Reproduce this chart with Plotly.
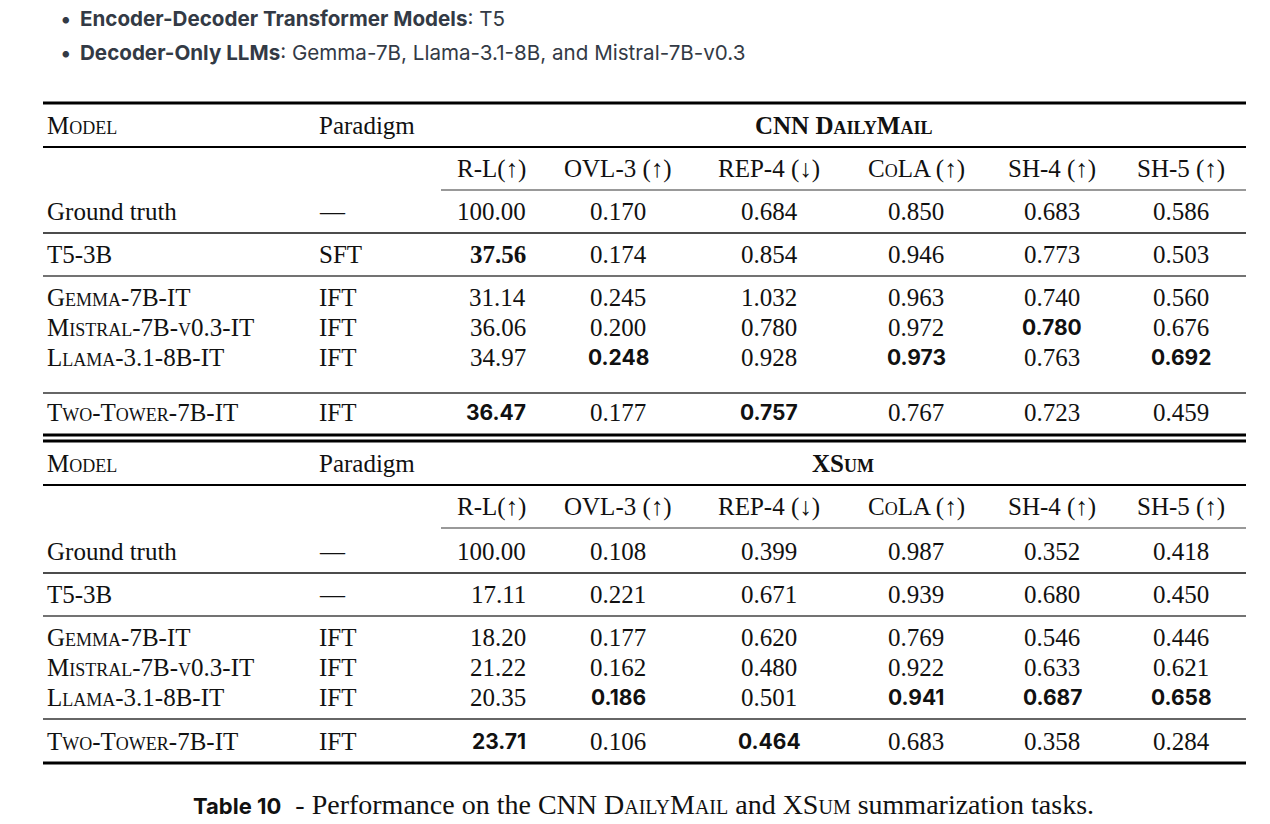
import plotly.graph_objects as go

# table content
metrics = ["R-L(↑)", "OVL-3 (↑)", "REP-4 (↓)", "CoLA (↑)", "SH-4 (↑)", "SH-5 (↑)"]
models = ["Ground truth", "T5-3B", "Gemma-7B-IT", "Mistral-7B-v0.3-IT",
          "Llama-3.1-8B-IT", "Two-Tower-7B-IT"]
cnn_paradigm = ["—", "SFT", "IFT", "IFT", "IFT", "IFT"]
xsum_paradigm = ["—", "—", "IFT", "IFT", "IFT", "IFT"]

cnn_values = [
    ["100.00", "0.170", "0.684", "0.850", "0.683", "0.586"],
    ["37.56", "0.174", "0.854", "0.946", "0.773", "0.503"],
    ["31.14", "0.245", "1.032", "0.963", "0.740", "0.560"],
    ["36.06", "0.200", "0.780", "0.972", "0.780", "0.676"],
    ["34.97", "0.248", "0.928", "0.973", "0.763", "0.692"],
    ["36.47", "0.177", "0.757", "0.767", "0.723", "0.459"],
]
xsum_values = [
    ["100.00", "0.108", "0.399", "0.987", "0.352", "0.418"],
    ["17.11", "0.221", "0.671", "0.939", "0.680", "0.450"],
    ["18.20", "0.177", "0.620", "0.769", "0.546", "0.446"],
    ["21.22", "0.162", "0.480", "0.922", "0.633", "0.621"],
    ["20.35", "0.186", "0.501", "0.941", "0.687", "0.658"],
    ["23.71", "0.106", "0.464", "0.683", "0.358", "0.284"],
]
# (row, col) of best values; serif bold for the T5 cell, sans for the rest
cnn_bold = [(1, 0), (4, 1), (3, 4), (4, 3), (4, 5), (5, 0), (5, 2)]
xsum_bold = [(4, 1), (4, 3), (4, 4), (4, 5), (5, 0), (5, 2)]
serif_bold = [("cnn", 1, 0)]

SERIF = "Liberation Serif"
SANS = "Inter"
INK = "#111111"
W, H = 1270, 824

fig = go.Figure()
fig.add_trace(go.Scatter(x=[0, W], y=[0, H], mode="markers",
                         marker=dict(opacity=0), hoverinfo="skip", showlegend=False))

col_x = [528, 618, 769, 916, 1052, 1181]
x_model, x_par = 45, 317
L, R = 43, 1246

ann = []
shapes = []


def text(x, y, s, size=25, family=SERIF, anchor="left", weight="normal",
         variant="normal", color=INK):
    ann.append(dict(x=x, y=y, xref="x", yref="y", text=s, showarrow=False,
                    xanchor=anchor, yanchor="middle",
                    font=dict(family=family, size=size, color=color,
                              weight=weight, variant=variant)))


def rule(y, w, x0=L, x1=R, color="#000000"):
    shapes.append(dict(type="line", xref="x", yref="y", x0=x0, x1=x1, y0=y, y1=y,
                       line=dict(color=color, width=w)))


def block(name, tag, top, ys, rules, values, paradigm, bold):
    rule(top, 3)
    text(x_model, top + 22, "Model", variant="small-caps")
    text(x_par, top + 22, "Paradigm")
    text(843, top + 22, name, weight="bold", variant="small-caps", anchor="center")
    rule(top + 44, 2)
    for j, m in enumerate(metrics):
        text(col_x[j], top + 66, m, anchor="right" if j == 0 else "center",
             variant="small-caps" if m.startswith("CoLA") else "normal")
    rule(top + 87, 1.5, x0=441, color="#777777")
    for i, row in enumerate(values):
        y = ys[i]
        text(x_model, y, models[i], variant="small-caps" if i >= 2 else "normal")
        text(x_par, y, paradigm[i])
        for j, v in enumerate(row):
            anchor = "right" if j == 0 else "center"
            if (tag, i, j) in serif_bold:
                text(col_x[j], y, v, anchor=anchor, weight="bold")
            elif (i, j) in bold:
                text(col_x[j], y, v, size=21, family=SANS, anchor=anchor,
                     weight="bold")
            else:
                text(col_x[j], y, v, anchor=anchor)
    for y, w, c in rules:
        rule(y, w, color=c)


block("CNN DailyMail", "cnn", 103, [211, 254, 297, 327, 357, 412],
      [(233, 1.5, "#111111"), (276, 1.5, "#444444"), (393, 1.5, "#333333"),
       (435, 3, "#000000")],
      cnn_values, cnn_paradigm, cnn_bold)
block("XSum", "xsum", 441, [551, 594, 637, 667, 697, 741],
      [(573, 1.5, "#111111"), (616, 1.5, "#444444"), (719, 1.5, "#333333"),
       (763, 3, "#000000")],
      xsum_values, xsum_paradigm, xsum_bold)

# bullets above the table
BUL = "#333a45"
text(58, 18, "•", size=20.6, family=SANS, color=BUL)
text(78, 18, "<b>Encoder-Decoder Transformer Models</b>: T5", size=20.6,
     family=SANS, color=BUL)
text(58, 52, "•", size=20.6, family=SANS, color=BUL)
text(78, 52, "<b>Decoder-Only LLMs</b>: Gemma-7B, Llama-3.1-8B, and Mistral-7B-v0.3",
     size=20.6, family=SANS, color=BUL)

# caption
text(643, 804,
     "<span style='font-family:Inter;font-weight:bold;font-size:22px'>Table 10</span>"
     "  - Performance on the CNN <span style='font-variant:small-caps'>DailyMail</span>"
     " and X<span style='font-variant:small-caps'>Sum</span> summarization tasks.",
     size=28, anchor="center", color="#111111")

fig.update_layout(
    width=W, height=H,
    margin=dict(l=0, r=0, t=0, b=0),
    paper_bgcolor="white", plot_bgcolor="white",
    xaxis=dict(range=[0, W], visible=False, fixedrange=True),
    yaxis=dict(range=[H, 0], visible=False, fixedrange=True),
    annotations=ann, shapes=shapes,
)

fig.write_html("out.html", config={"displayModeBar": False},
               post_script="document.body.style.margin='0px';"
                           "document.body.style.overflow='hidden';")
